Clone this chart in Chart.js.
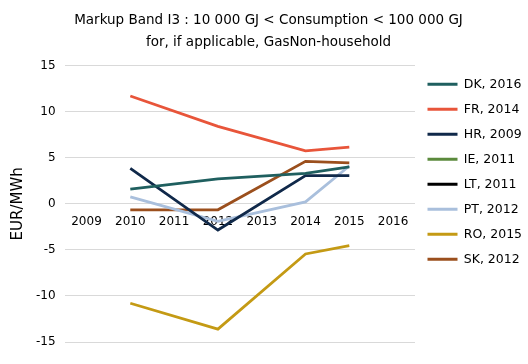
<!DOCTYPE html>
<html>
<head>
<meta charset="utf-8">
<script src="https://cdn.jsdelivr.net/npm/chart.js@4.4.1/dist/chart.umd.min.js"></script>
<style>
    html, body { margin: 0; padding: 0; background: #fff; }
    #wrap { width: 528px; height: 364px; }
</style>
</head>
<body>
<div id="wrap"><canvas id="markupChart"></canvas></div>
<script>
const YEARS = ['2009', '2010', '2011', '2012', '2013', '2014', '2015', '2016'];
const Y_TICKS = [-15, -10, -5, 0, 5, 10, 15];

// values, EUR/MWh
const DK = [null, 1.6, null, 2.7, null, 3.3, 4.0, null];
const FR = [null, 11.7, null, 8.4, null, 5.75, 6.15, null];
const HR = [null, 3.85, null, -2.85, null, 3.05, 3.05, null];
const IE = [null, null, null, null, null, null, null, null];
const LT = [null, null, null, null, null, null, null, null];
const PT = [null, 0.75, null, -1.9, null, 0.2, 4.1, null];
const RO = [null, -10.8, null, -13.6, null, -5.45, -4.55, null];
const SK = [null, -0.65, null, -0.65, null, 4.6, 4.45, null];

const FONT = 'DejaVu Sans';

function series(label, data, color) {
    return {
        label: label,
        data: data,
        borderColor: color,
        backgroundColor: color,
        borderWidth: 2.75,
        pointRadius: 0,
        spanGaps: true,
        tension: 0
    };
}

const ctx = document.getElementById('markupChart').getContext('2d');
const markupChart = new Chart(ctx, {
    type: 'line',
    data: {
        labels: YEARS,
        datasets: [
            series('DK, 2016', DK, '#1f5f5f'),
            series('FR, 2014', FR, '#e8553a'),
            series('HR, 2009', HR, '#10294a'),
            series('IE, 2011', IE, '#5b8a3c'),
            series('LT, 2011', LT, '#000000'),
            series('PT, 2012', PT, '#a9bfdc'),
            series('RO, 2015', RO, '#c49a14'),
            series('SK, 2012', SK, '#9b4f1d')
        ]
    },
    options: {
        responsive: true,
        maintainAspectRatio: false,
        animation: false,
        layout: { padding: { top: 0, right: 0, bottom: 22, left: 9 } },
        plugins: {
            title: {
                display: true,
                text: ['Markup Band I3 : 10 000 GJ < Consumption < 100 000 GJ',
                       'for, if applicable, GasNon-household'],
                color: '#000',
                font: { family: FONT, size: 13.5, weight: 'normal', lineHeight: 1.65 },
                padding: { top: 9, bottom: 12 }
            },
            legend: {
                position: 'right',
                align: 'start',
                fullSize: false,
                maxWidth: 113,
                labels: {
                    color: '#000',
                    font: { family: FONT, size: 12.5 },
                    boxWidth: 30,
                    boxHeight: 3,
                    padding: 12.5,
                    generateLabels: function (chart) {
                        const items = Chart.defaults.plugins.legend.labels.generateLabels(chart);
                        items.forEach(function (item) { item.lineWidth = 0; });
                        return items;
                    }
                }
            },
            tooltip: { enabled: false }
        },
        scales: {
            x: {
                type: 'category',
                position: { y: 0 },
                offset: true,
                grid: { display: false },
                border: { display: false },
                ticks: {
                    color: '#000',
                    font: { family: FONT, size: 12 },
                    maxRotation: 0,
                    autoSkip: false
                }
            },
            y: {
                min: -15,
                max: 15,
                afterBuildTicks: function (scale) {
                    scale.ticks = Y_TICKS.map(function (v) { return { value: v }; });
                },
                grid: { color: '#d9d9d9', drawTicks: false },
                border: { display: false },
                ticks: {
                    color: '#000',
                    font: { family: FONT, size: 12 },
                    padding: 9
                },
                title: {
                    display: true,
                    text: 'EUR/MWh',
                    color: '#000',
                    font: { family: FONT, size: 15 },
                    padding: 0
                }
            }
        }
    }
});
</script>
</body>
</html>
